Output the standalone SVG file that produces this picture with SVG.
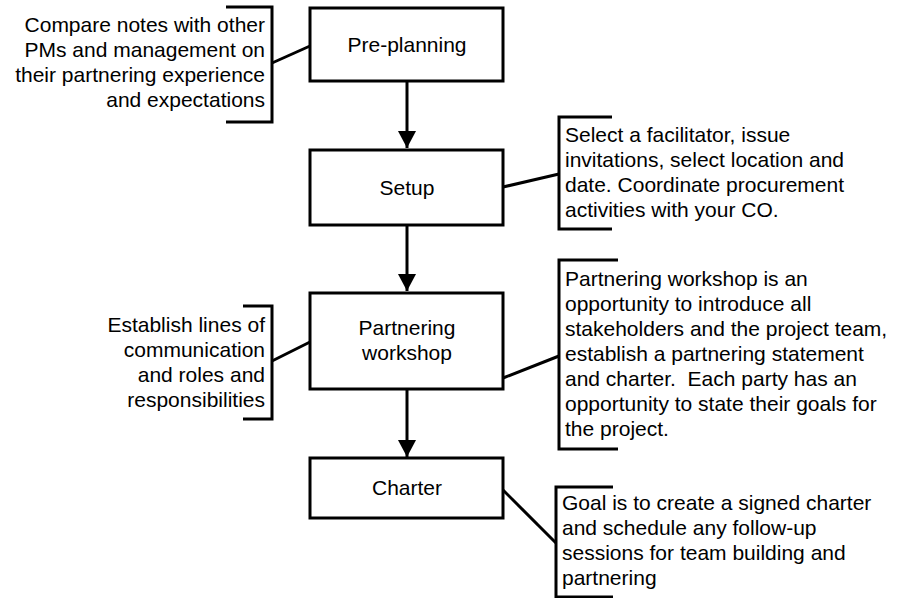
<svg xmlns="http://www.w3.org/2000/svg" width="900" height="598" viewBox="0 0 900 598">
<style>
.box{fill:#fff;stroke:#000;stroke-width:3}
.ln{fill:none;stroke:#000;stroke-width:3}
text{font-family:"Liberation Sans",Arial,sans-serif;font-size:21px;fill:#000}
.c{text-anchor:middle}
.r{text-anchor:end}
</style>
<defs>
<marker id="ah" markerWidth="19" markerHeight="18" refX="18" refY="9.5" orient="auto" markerUnits="userSpaceOnUse" viewBox="0 0 18 19">
<path d="M0,0 L18,9.5 L0,19 Z" fill="#000"/>
</marker>
</defs>
<rect width="900" height="598" fill="#fff"/>
<g id="connectors">
<line class="ln" x1="407" y1="81" x2="407" y2="148" marker-end="url(#ah)"/>
<line class="ln" x1="407" y1="225" x2="407" y2="291" marker-end="url(#ah)"/>
<line class="ln" x1="407" y1="389" x2="407" y2="457" marker-end="url(#ah)"/>
<line class="ln" x1="310" y1="46" x2="272" y2="63"/>
<line class="ln" x1="503" y1="187" x2="559" y2="174"/>
<line class="ln" x1="310" y1="342" x2="272" y2="361"/>
<line class="ln" x1="503" y1="378" x2="559" y2="356"/>
<line class="ln" x1="503" y1="490" x2="556" y2="543"/>
</g>
<g id="preplanning">
<rect class="box" x="310" y="8" width="193" height="73"/>
<text class="c" x="407" y="52">Pre-planning</text>
</g>
<g id="setup">
<rect class="box" x="310" y="150" width="193" height="75"/>
<text class="c" x="407" y="195">Setup</text>
</g>
<g id="workshop">
<rect class="box" x="310" y="293" width="193" height="96"/>
<text class="c" x="407" y="335">Partnering</text>
<text class="c" x="407" y="360">workshop</text>
</g>
<g id="charter">
<rect class="box" x="310" y="458" width="193" height="60"/>
<text class="c" x="407" y="495">Charter</text>
</g>
<g id="note-preplanning">
<path class="ln" d="M226,7 H272 V122 H226"/>
<text class="r" x="265" y="32">Compare notes with other</text>
<text class="r" x="265" y="57">PMs and management on</text>
<text class="r" x="265" y="82">their partnering experience</text>
<text class="r" x="265" y="107">and expectations</text>
</g>
<g id="note-setup">
<path class="ln" d="M612,117 H559 V229 H612"/>
<text x="565" y="142">Select a facilitator, issue</text>
<text x="565" y="167">invitations, select location and</text>
<text x="565" y="192">date. Coordinate procurement</text>
<text x="565" y="217">activities with your CO.</text>
</g>
<g id="note-workshop-left">
<path class="ln" d="M243,306 H272 V419 H243"/>
<text class="r" x="265" y="332">Establish lines of</text>
<text class="r" x="265" y="357">communication</text>
<text class="r" x="265" y="382">and roles and</text>
<text class="r" x="265" y="407">responsibilities</text>
</g>
<g id="note-workshop-right">
<path class="ln" d="M618,260 H559 V449 H618"/>
<text x="565" y="286">Partnering workshop is an</text>
<text x="565" y="311">opportunity to introduce all</text>
<text x="565" y="336">stakeholders and the project team,</text>
<text x="565" y="361">establish a partnering statement</text>
<text x="565" y="386" xml:space="preserve">and charter.  Each party has an</text>
<text x="565" y="411">opportunity to state their goals for</text>
<text x="565" y="436">the project.</text>
</g>
<g id="note-charter">
<path class="ln" d="M613,487 H556 V597 H613"/>
<text x="562" y="510">Goal is to create a signed charter</text>
<text x="562" y="535">and schedule any follow-up</text>
<text x="562" y="560">sessions for team building and</text>
<text x="562" y="585">partnering</text>
</g>
</svg>
